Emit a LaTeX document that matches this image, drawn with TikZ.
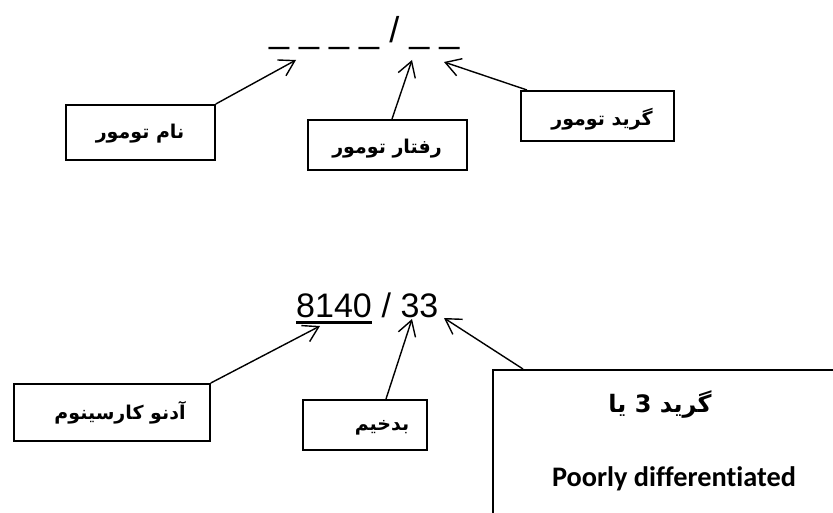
\documentclass[tikz,border=0pt]{standalone}
\usepackage{fontspec}
\setmainfont{Liberation Sans}
\newfontfamily\arabicfont[Script=Arabic]{DejaVu Sans Bold}
\newfontfamily\calib[Ligatures={NoCommon}]{Carlito}
\TeXXeTstate=1
\usetikzlibrary{arrows.meta,calc}
\begin{document}
\begin{tikzpicture}[x=1pt,y=-1pt,
  box/.style={draw,line width=1.8pt,inner sep=0pt,anchor=north west},
  lbl/.style={inner sep=0pt,font=\arabicfont\fontsize{19}{22}\selectfont},
  arr/.style={line width=1.4pt,-{Straight Barb[length=15pt,width=18pt,line width=1.4pt]}},
  big/.style={inner sep=0pt,anchor=base west,font=\fontsize{34}{40}\selectfont}]
\clip (0,0) rectangle (833,513);
\fill[white] (0,0) rectangle (833,513);
% top formula
\node[inner sep=0pt,anchor=base west,font=\fontsize{36}{40}\selectfont] (topf) at (269,43) {\_ \_ \_ \_ / \_ \_};
\coordinate (t1) at (296,60);
\coordinate (t2) at (412,60);
\coordinate (t3) at (444,62);
% top boxes
\node[box,minimum width=149pt,minimum height=55pt] (nam) at (65,104) {};
\node[lbl] (namt) at (140,134) {\beginR نام تومور\endR};
\node[box,minimum width=159pt,minimum height=50pt] (raftar) at (307,119) {};
\node[lbl] (raftart) at (387,149) {\beginR رفتار تومور\endR};
\node[box,minimum width=153pt,minimum height=50pt] (grade) at (520,90) {};
\node[lbl] (gradet) at (602,119) {\beginR گرید تومور\endR};
\draw[arr] (nam.north east) -- (t1);
\draw[arr] ($(raftar.north west)+(85,0)$) -- (t2);
\draw[arr] ($(grade.north west)+(7,0)$) -- (t3);
% bottom formula
\node[big] (n8140) at (296,317) {8140};
\node[big] (n33) at (n8140.base east) {\ / 33};
\draw[line width=2.6pt] ($(n8140.base west)+(0,5.5)$) -- ($(n8140.base east)+(0,5.5)$);
\coordinate (b1) at (320,326);
\coordinate (b2) at (412,319);
\coordinate (b3) at (444,318);
% bottom boxes
\node[box,minimum width=196pt,minimum height=57pt] (adeno) at (13,383) {};
\node[lbl] (adenot) at (120,413) {\beginR آدنو کارسینوم\endR};
\node[box,minimum width=124pt,minimum height=50pt] (badkhim) at (302,399) {};
\node[lbl] (badkhimt) at (382,428) {\beginR بدخیم\endR};
\node[box,minimum width=380pt,minimum height=200pt] (gbox) at (492,369) {};
\node[inner sep=0pt,font=\arabicfont\fontsize{24}{28}\selectfont] (g3) at (660,405) {\beginR گرید 3 یا\endR};
\node[inner sep=0pt,anchor=base,font=\calib\bfseries\fontsize{28.3}{32}\selectfont] (poor) at (674,486) {Poorly differentiated};
\draw[arr] (adeno.north east) -- (b1);
\draw[arr] ($(badkhim.north west)+(84,0)$) -- (b2);
\draw[arr] ($(gbox.north west)+(31,0)$) -- (b3);
\end{tikzpicture}
\end{document}
